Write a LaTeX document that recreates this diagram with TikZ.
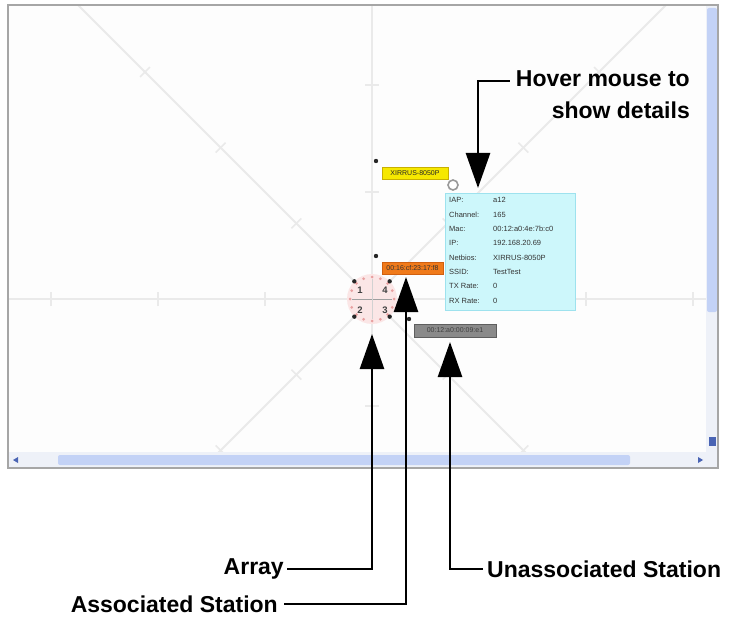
\documentclass[tikz,border=0pt]{standalone}
\usepackage{fontspec}
\setmainfont{Liberation Sans}
\usetikzlibrary{arrows.meta}
\definecolor{gridgray}{HTML}{EAEAEA}
\definecolor{panebg}{HTML}{FDFDFD}
\definecolor{sbtrack}{HTML}{EEF1F8}
\definecolor{sbthumb}{HTML}{C3D2F6}
\definecolor{sbarrow}{HTML}{4A64B4}
\definecolor{pinkfill}{HTML}{FBE6E6}
\definecolor{ringdot}{HTML}{E8A0A0}
\definecolor{tipfill}{HTML}{CDF7FB}
\definecolor{tipborder}{HTML}{9EE2EE}
\definecolor{tagyellow}{HTML}{F6E800}
\definecolor{tagyellowb}{HTML}{C8B000}
\definecolor{tagorange}{HTML}{F07A1A}
\definecolor{tagorangeb}{HTML}{D06010}
\definecolor{taggray}{HTML}{8A8A8A}
\definecolor{taggrayb}{HTML}{5E5E5E}
\begin{document}
\begin{tikzpicture}[x=1pt,y=-1pt,
  gridline/.style={draw=gridgray, line width=2pt},
  gridtick/.style={draw=gridgray, line width=1.6pt},
  callout/.style={draw=black, line width=2.6pt, -{Triangle[width=24pt,length=35pt]}},
  annot/.style={font=\fontsize{23}{32}\selectfont\bfseries, inner sep=0pt, text=black},
  tag/.style={minimum height=12pt, inner sep=0pt, font=\fontsize{7}{7}\selectfont, line width=0.8pt},
  tiplabel/.style={font=\fontsize{7.5}{8}\selectfont, text=black!80, inner sep=0pt, anchor=base west},
  arraynum/.style={font=\fontsize{9.5}{9.5}\selectfont\bfseries, text=black!75, inner sep=0pt},
  blackdot/.style={fill=black!85},
]
\useasboundingbox (0,0) rectangle (729,623);
\fill[white] (0,0) rectangle (729,623);

% ---- application pane with polar grid ----
\fill[panebg] (9,6) rectangle (706,452);
\begin{scope}
  \clip (9,6) rectangle (706,452);
  \begin{scope}[shift={(372,299)}]
    \foreach \a in {0,45,...,315} {
      \draw[gridline, rotate=\a] (0,0) -- (700,0);
      \foreach \r in {107,214,321,428}
        \draw[gridtick, rotate=\a] (\r,-7) -- (\r,7);
    }
  \end{scope}
\end{scope}

% ---- scroll bars ----
\fill[sbtrack] (706,6) rectangle (718,452);
\fill[sbthumb, rounded corners=2pt] (707,8) rectangle (717,312);
\fill[sbarrow] (709,437) rectangle (716,446);
\fill[sbtrack] (9,452) rectangle (718,468);
\fill[sbthumb, rounded corners=2pt] (58,455) rectangle (630,465);
\fill[sbarrow] (13,460) -- (18,457) -- (18,463) -- cycle;
\fill[sbarrow] (703,460) -- (698,457) -- (698,463) -- cycle;
\draw[gray!70, line width=1.5pt] (8,5) rectangle (718,468);

% ---- array symbol ----
\coordinate (ctr) at (372,299);
\node[circle, fill=pinkfill, minimum size=50pt, inner sep=0pt] (array) at (ctr) {};
\draw[gray!75, line width=0.8pt] (352,299) -- (392,299);
\draw[gray!35, line width=0.8pt] (372,279) -- (372,319);
\foreach \a in {0,22.5,...,337.5}
  \fill[ringdot] (ctr) ++(\a:22) circle (1.5);
\foreach \a in {45,135,225,315}
  \fill[blackdot] (ctr) ++(\a:25) circle (2.2);
\node[arraynum] (n1) at (360,290) {1};
\node[arraynum] (n4) at (385,290) {4};
\node[arraynum] (n2) at (360,310) {2};
\node[arraynum] (n3) at (385,310) {3};

% ---- stations and access point tags ----
\fill[blackdot] (376,161) circle (2.2);
\fill[blackdot] (376,256) circle (2.2);
\fill[blackdot] (409,319) circle (2.2);
\node[tag, fill=tagyellow, draw=tagyellowb, minimum width=66pt, text=black!85] (aptag) at (415,173.5) {XIRRUS-8050P};
\node[tag, fill=tagorange, draw=tagorangeb, minimum width=61pt, text=black!80] (sta1) at (412.5,268) {00:16:cf:23:17:f8};
\node[tag, fill=taggray, draw=taggrayb, minimum width=82pt, minimum height=13pt, text=black!75] (sta2) at (455,330.5) {00:12:a0:00:09:e1};

% ---- hover details box ----
\node[draw=tipborder, fill=tipfill, line width=0.8pt, minimum width=130pt, minimum height=117pt,
      inner sep=0pt, anchor=north west] (details) at (445,193) {};
\foreach \lbl/\val [count=\i from 0] in {IAP:/a12, Channel:/165, Mac:/00:12:a0:4e:7b:c0,
    IP:/192.168.20.69, Netbios:/XIRRUS-8050P, SSID:/TestTest, TX Rate:/0, RX Rate:/0} {
  \node[tiplabel] (dl\i) at (449,{203+14.3*\i}) {\lbl};
  \node[tiplabel] (dv\i) at (493,{203+14.3*\i}) {\val};
}
\draw[gray!80, line width=1.6pt, fill=white] (453,185) circle (5);

% ---- annotations ----
\node[annot, align=right, anchor=north east] (hover) at (690,70) {Hover mouse to\\show details};
\coordinate (hoverbend) at (478,81);
\coordinate (hovertip) at (478,188);
\path ([xshift=-6pt]hover.west) coordinate (hoverleft);
\draw[callout] (hoverleft |- hoverbend) -- (hoverbend) -- (hovertip);

\node[annot, anchor=east] (arraylbl) at (284,569) {Array};
\coordinate (arraytip) at (372,334);
\draw[callout, shorten <=3pt] (arraylbl.east) -| (arraytip);

\node[annot, anchor=east] (assoclbl) at (278,604) {Associated Station};
\coordinate (assoctip) at (406,277);
\draw[callout, shorten <=6pt] (assoclbl.east) -| (assoctip);

\node[annot, anchor=west] (unassoclbl) at (487,569) {Unassociated Station};
\coordinate (unassoctip) at (450,342);
\draw[callout, shorten <=4pt] (unassoclbl.west) -| (unassoctip);
\end{tikzpicture}
\end{document}
